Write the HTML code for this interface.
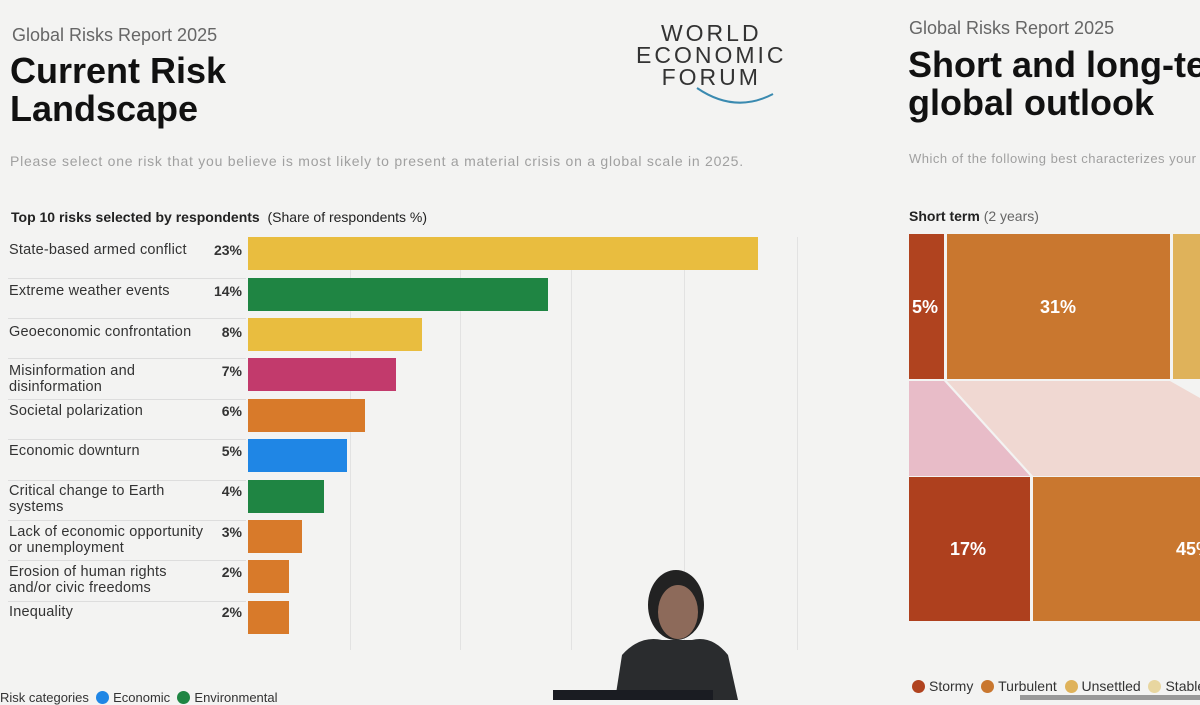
<!DOCTYPE html>
<html><head><style>
body{margin:0;width:1200px;height:700px;overflow:hidden;background:#f3f3f2;font-family:"Liberation Sans",sans-serif;position:relative;color:#222}
.a{position:absolute;white-space:nowrap}
.bar{position:absolute;left:248px;height:33px}
.lab{position:absolute;left:9px;font-size:14.5px;letter-spacing:0.2px;color:#333;line-height:16px}
.pct{position:absolute;left:200px;width:42px;text-align:right;font-size:14px;font-weight:bold;color:#333}
.sep{position:absolute;left:8px;width:238px;height:1px;background:#ddd}
.g{position:absolute;top:237px;height:413px;width:1px;background:#e2e2e2}
.w{position:absolute;color:#fff;font-weight:bold;font-size:18px}
.dot{display:inline-block;width:13px;height:13px;border-radius:50%;vertical-align:-2px;margin-right:4px}
</style></head><body>
<div class="a" style="left:12px;top:25px;font-size:18px;color:#666">Global Risks Report 2025</div>
<div class="a" style="left:10px;top:52px;font-size:36px;font-weight:bold;line-height:38px;color:#111">Current Risk<br>Landscape</div>
<div class="a" style="left:636px;top:22px;font-size:23px;letter-spacing:3px;line-height:22px;text-align:center;color:#333">WORLD<br>ECONOMIC<br>FORUM</div>
<svg class="a" style="left:695px;top:86px" width="90" height="22"><path d="M2 2 Q40 28 78 8" stroke="#3a8ab0" stroke-width="2" fill="none"/></svg>
<div class="a" style="left:10px;top:153px;font-size:14px;letter-spacing:0.75px;color:#a0a0a0">Please select one risk that you believe is most likely to present a material crisis on a global scale in 2025.</div>
<div class="a" style="left:11px;top:209px;font-size:14px;color:#222"><b>Top 10 risks selected by respondents</b>&nbsp; (Share of respondents %)</div>

<div class="g" style="left:350px"></div><div class="g" style="left:460px"></div><div class="g" style="left:571px"></div><div class="g" style="left:684px"></div><div class="g" style="left:797px"></div>

<div class="bar" style="top:237px;width:510px;background:#e9bd3f"></div>
<div class="bar" style="top:278px;width:300px;background:#1f8543"></div>
<div class="bar" style="top:318px;width:174px;background:#e9bd3f"></div>
<div class="bar" style="top:358px;width:148px;background:#c23a6c"></div>
<div class="bar" style="top:399px;width:117px;background:#d87a2a"></div>
<div class="bar" style="top:439px;width:99px;background:#1f86e5"></div>
<div class="bar" style="top:480px;width:76px;background:#1f8543"></div>
<div class="bar" style="top:520px;width:54px;background:#d87a2a"></div>
<div class="bar" style="top:560px;width:41px;background:#d87a2a"></div>
<div class="bar" style="top:601px;width:41px;background:#d87a2a"></div>

<div class="lab" style="top:242px">State-based armed conflict</div><div class="pct" style="top:242px">23%</div><div class="sep" style="top:278px"></div>
<div class="lab" style="top:283px">Extreme weather events</div><div class="pct" style="top:283px">14%</div><div class="sep" style="top:318px"></div>
<div class="lab" style="top:324px">Geoeconomic confrontation</div><div class="pct" style="top:324px">8%</div><div class="sep" style="top:358px"></div>
<div class="lab" style="top:363px">Misinformation and<br>disinformation</div><div class="pct" style="top:363px">7%</div><div class="sep" style="top:399px"></div>
<div class="lab" style="top:403px">Societal polarization</div><div class="pct" style="top:403px">6%</div><div class="sep" style="top:439px"></div>
<div class="lab" style="top:443px">Economic downturn</div><div class="pct" style="top:443px">5%</div><div class="sep" style="top:480px"></div>
<div class="lab" style="top:483px">Critical change to Earth<br>systems</div><div class="pct" style="top:483px">4%</div><div class="sep" style="top:520px"></div>
<div class="lab" style="top:524px">Lack of economic opportunity<br>or unemployment</div><div class="pct" style="top:524px">3%</div><div class="sep" style="top:560px"></div>
<div class="lab" style="top:564px">Erosion of human rights<br>and/or civic freedoms</div><div class="pct" style="top:564px">2%</div><div class="sep" style="top:601px"></div>
<div class="lab" style="top:604px">Inequality</div><div class="pct" style="top:604px">2%</div>

<div class="a" style="left:0;top:690px;font-size:13px;color:#333">Risk categories &nbsp;<span class="dot" style="background:#1f86e5"></span>Economic &nbsp;<span class="dot" style="background:#1f8543"></span>Environmental</div>

<div class="a" style="left:909px;top:18px;font-size:18px;color:#666">Global Risks Report 2025</div>
<div class="a" style="left:908px;top:46px;font-size:36px;font-weight:bold;line-height:38px;color:#111">Short and long-term<br>global outlook</div>
<div class="a" style="left:909px;top:151px;font-size:13px;letter-spacing:0.5px;color:#a0a0a0">Which of the following best characterizes your outlook</div>
<div class="a" style="left:909px;top:208px;font-size:14px;color:#222"><b>Short term</b> <span style="color:#666">(2 years)</span></div>
<svg class="a" style="left:0;top:0" width="1200" height="700">
<rect x="909" y="234" width="35" height="145" fill="#b0431f"/>
<rect x="947" y="234" width="223" height="145" fill="#c9772f"/>
<rect x="1173" y="234" width="30" height="145" fill="#dfb25a"/>
<polygon points="909,381 944,381 1030,476 909,476" fill="#e8bcc8"/>
<polygon points="947,381 1170,381 1200,398 1200,476 1033,476" fill="#f0d8d2"/>
<rect x="909" y="477" width="121" height="144" fill="#ae401e"/>
<rect x="1033" y="477" width="170" height="144" fill="#c9772f"/>
</svg>
<div class="w" style="left:912px;top:297px">5%</div>
<div class="w" style="left:1040px;top:297px">31%</div>
<div class="w" style="left:950px;top:539px">17%</div>
<div class="w" style="left:1176px;top:539px">45%</div>
<div class="a" style="left:912px;top:678px;font-size:14px;color:#333"><span class="dot" style="background:#b0431f"></span>Stormy &nbsp;<span class="dot" style="background:#c9772f"></span>Turbulent &nbsp;<span class="dot" style="background:#dfb25a"></span>Unsettled &nbsp;<span class="dot" style="background:#e8d6a0"></span>Stable</div>
<div class="a" style="left:1020px;top:695px;width:180px;height:5px;background:#999"></div>

<svg class="a" style="left:0;top:0" width="1200" height="700">
<ellipse cx="676" cy="605" rx="28" ry="35" fill="#222"/>
<ellipse cx="678" cy="612" rx="20" ry="27" fill="#8d6a5a"/>
<path d="M615 700 L622 655 Q640 635 662 640 L692 640 Q712 635 728 655 L738 700 Z" fill="#2a2c2e"/>
<rect x="553" y="690" width="160" height="10" fill="#1a1c22"/>
</svg>
</body></html>
